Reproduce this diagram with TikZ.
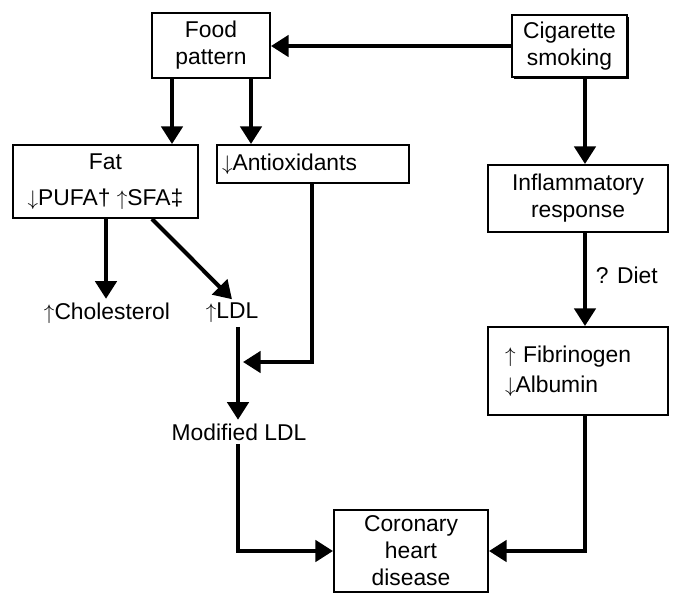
\documentclass[tikz,border=0pt]{standalone}
\usepackage{amssymb}
\usepackage{amsmath}
\usepackage{fontspec}
\setmainfont{Liberation Sans}
\usetikzlibrary{arrows.meta,shadows}
\tikzset{
  box/.style={draw,line width=1.1pt,align=center,inner sep=2pt,font=\fontsize{13}{15.3}\selectfont},
  lbl/.style={inner sep=2pt,font=\fontsize{13}{15.3}\selectfont},
  arr/.style={line width=2.3pt,-{Triangle[width=12pt,length=10pt]}},
  ln/.style={line width=2.3pt}
}
\begin{document}
\begin{tikzpicture}[x=0.02cm,y=-0.02cm]
\def\px{0.02cm}
\useasboundingbox (0,0) rectangle (677,593);
\node[box,minimum width=118*\px,minimum height=65*\px] (food) at (211,45.5) {Food\\pattern};
\node[box,minimum width=115*\px,minimum height=62*\px,drop shadow={opacity=1,fill=black,shadow xshift=1.2pt,shadow yshift=-1.2pt},fill=white] (smoke) at (569.5,46) {Cigarette\\smoking};
\node[box,minimum width=185*\px,minimum height=73*\px] (fat) at (105.5,181.5) {Fat\\[5pt]$\downarrow$PUFA† $\uparrow$SFA‡};
\node[box,minimum width=192*\px,minimum height=38*\px,text width=182*\px,align=left] (antiox) at (313,164) {$\downarrow$Antioxidants};
\node[box,minimum width=180*\px,minimum height=67*\px] (infl) at (578,198.5) {Inflammatory\\response};
\node[box,minimum width=180*\px,minimum height=88*\px,text width=146*\px,align=left] (fib) at (578,371) {$\uparrow$ Fibrinogen\\[2pt]$\downarrow$Albumin};
\node[box,minimum width=154*\px,minimum height=82*\px] (chd) at (411,551) {Coronary\\heart\\disease};
\node[lbl] (chol) at (107,313) {$\uparrow$Cholesterol};
\node[lbl] (ldl) at (232,313) {$\uparrow$LDL};
\node[lbl] (mldl) at (239,432) {Modified LDL};
\node[lbl,anchor=west] (diet) at (592,275) {? Diet};
\coordinate (join) at (238,362);
\draw[arr] (smoke.west) -- (smoke.west -| food.east);
\draw[arr] (172,0 |- food.south) -- (172,0 |- fat.north);
\draw[arr] (251,0 |- food.south) -- (251,0 |- antiox.north);
\draw[arr] (106,0 |- fat.south) -- (106,0 |- chol.north);
\draw[arr] (152,0 |- fat.south) -- (ldl.north);
\draw[ln] (238,0 |- ldl.south) -- (join);
\draw[arr] (join) -- (238,0 |- mldl.north);
\draw[arr,shorten >=5*\px] (312,0 |- antiox.south) |- (join);
\draw[arr] (238,0 |- mldl.south) |- (chd.west);
\draw[arr] (585,0 |- smoke.south) -- (585,0 |- infl.north);
\draw[arr] (585,0 |- infl.south) -- (585,0 |- fib.north);
\draw[arr] (585,0 |- fib.south) |- (chd.east);
\end{tikzpicture}
\end{document}
